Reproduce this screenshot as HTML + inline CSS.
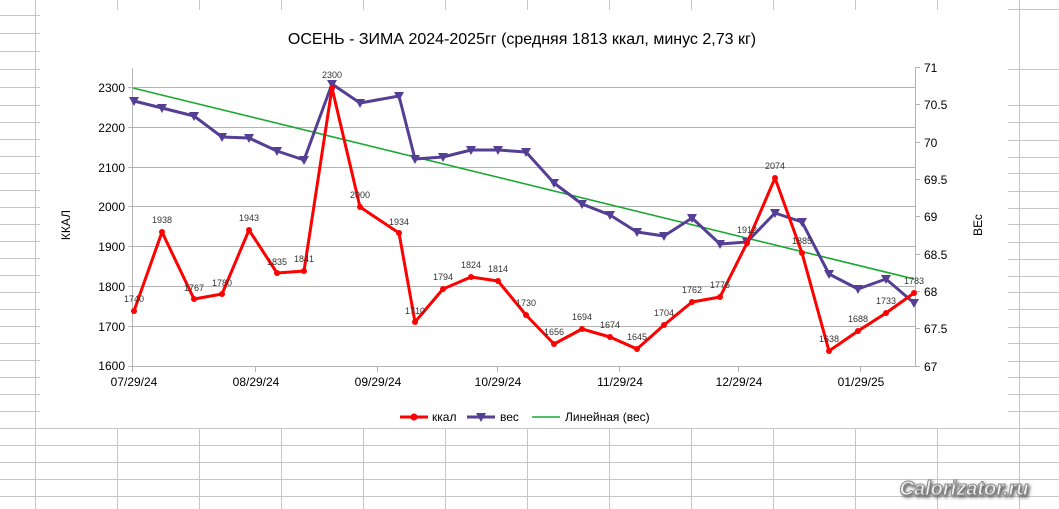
<!DOCTYPE html>
<html><head><meta charset="utf-8"><style>
html,body{margin:0;padding:0;background:#fff;}
svg{display:block;font-family:"Liberation Sans","DejaVu Sans",sans-serif;}
</style></head><body>
<svg width="1059" height="509" viewBox="0 0 1059 509" xmlns="http://www.w3.org/2000/svg">
<defs><filter id="sh" x="-10%" y="-30%" width="120%" height="160%"><feGaussianBlur in="SourceAlpha" stdDeviation="1.5"/><feOffset dx="1.5" dy="2" result="b"/><feFlood flood-color="#555"/><feComposite in2="b" operator="in"/><feMerge><feMergeNode/><feMergeNode in="SourceGraphic"/></feMerge></filter></defs>
<rect width="1059" height="509" fill="#fff"/>
<g stroke="#c6c6c6" stroke-width="1">
<line x1="35.5" y1="0" x2="35.5" y2="509"/>
<line x1="1019.5" y1="0" x2="1019.5" y2="509"/>
<line x1="117.5" y1="0" x2="117.5" y2="10"/><line x1="199.5" y1="0" x2="199.5" y2="10"/><line x1="281.5" y1="0" x2="281.5" y2="10"/><line x1="363.5" y1="0" x2="363.5" y2="10"/><line x1="445.5" y1="0" x2="445.5" y2="10"/><line x1="527.5" y1="0" x2="527.5" y2="10"/><line x1="609.5" y1="0" x2="609.5" y2="10"/><line x1="691.5" y1="0" x2="691.5" y2="10"/><line x1="773.5" y1="0" x2="773.5" y2="10"/><line x1="855.5" y1="0" x2="855.5" y2="10"/><line x1="937.5" y1="0" x2="937.5" y2="10"/>
<line x1="117.5" y1="428" x2="117.5" y2="509"/><line x1="199.5" y1="428" x2="199.5" y2="509"/><line x1="281.5" y1="428" x2="281.5" y2="509"/><line x1="363.5" y1="428" x2="363.5" y2="509"/><line x1="445.5" y1="428" x2="445.5" y2="509"/><line x1="527.5" y1="428" x2="527.5" y2="509"/><line x1="609.5" y1="428" x2="609.5" y2="509"/><line x1="691.5" y1="428" x2="691.5" y2="509"/><line x1="773.5" y1="428" x2="773.5" y2="509"/><line x1="855.5" y1="428" x2="855.5" y2="509"/><line x1="937.5" y1="428" x2="937.5" y2="509"/>
<line x1="0" y1="15.5" x2="40" y2="15.5"/><line x1="0" y1="33.5" x2="40" y2="33.5"/><line x1="0" y1="51.5" x2="40" y2="51.5"/><line x1="0" y1="69.5" x2="40" y2="69.5"/><line x1="0" y1="87.5" x2="40" y2="87.5"/><line x1="0" y1="105.5" x2="40" y2="105.5"/><line x1="0" y1="122.5" x2="40" y2="122.5"/><line x1="0" y1="139.5" x2="40" y2="139.5"/><line x1="0" y1="156.5" x2="40" y2="156.5"/><line x1="0" y1="173.5" x2="40" y2="173.5"/><line x1="0" y1="190.5" x2="40" y2="190.5"/><line x1="0" y1="207.5" x2="40" y2="207.5"/><line x1="0" y1="224.5" x2="40" y2="224.5"/><line x1="0" y1="241.5" x2="40" y2="241.5"/><line x1="0" y1="258.5" x2="40" y2="258.5"/><line x1="0" y1="275.5" x2="40" y2="275.5"/><line x1="0" y1="292.5" x2="40" y2="292.5"/><line x1="0" y1="309.5" x2="40" y2="309.5"/><line x1="0" y1="326.5" x2="40" y2="326.5"/><line x1="0" y1="343.5" x2="40" y2="343.5"/><line x1="0" y1="360.5" x2="40" y2="360.5"/><line x1="0" y1="377.5" x2="40" y2="377.5"/><line x1="0" y1="394.5" x2="40" y2="394.5"/><line x1="0" y1="411.5" x2="40" y2="411.5"/>
<line x1="1008" y1="9.5" x2="1059" y2="9.5"/><line x1="1008" y1="69.5" x2="1059" y2="69.5"/><line x1="1008" y1="105.5" x2="1059" y2="105.5"/><line x1="1008" y1="122.5" x2="1059" y2="122.5"/><line x1="1008" y1="140.5" x2="1059" y2="140.5"/><line x1="1008" y1="157.5" x2="1059" y2="157.5"/><line x1="1008" y1="173.5" x2="1059" y2="173.5"/><line x1="1008" y1="191.5" x2="1059" y2="191.5"/><line x1="1008" y1="208.5" x2="1059" y2="208.5"/><line x1="1008" y1="224.5" x2="1059" y2="224.5"/><line x1="1008" y1="242.5" x2="1059" y2="242.5"/><line x1="1008" y1="259.5" x2="1059" y2="259.5"/><line x1="1008" y1="276.5" x2="1059" y2="276.5"/><line x1="1008" y1="292.5" x2="1059" y2="292.5"/><line x1="1008" y1="309.5" x2="1059" y2="309.5"/><line x1="1008" y1="327.5" x2="1059" y2="327.5"/><line x1="1008" y1="343.5" x2="1059" y2="343.5"/><line x1="1008" y1="361.5" x2="1059" y2="361.5"/><line x1="1008" y1="377.5" x2="1059" y2="377.5"/><line x1="1008" y1="394.5" x2="1059" y2="394.5"/><line x1="1008" y1="411.5" x2="1059" y2="411.5"/>
<line x1="0" y1="428.5" x2="1059" y2="428.5"/><line x1="0" y1="445.5" x2="1059" y2="445.5"/><line x1="0" y1="462.5" x2="1059" y2="462.5"/><line x1="0" y1="479.5" x2="1059" y2="479.5"/><line x1="0" y1="496.5" x2="1059" y2="496.5"/>
</g>
<rect x="40" y="10" width="968" height="418" fill="#fff"/>
<text x="522" y="44" font-size="16" text-anchor="middle" fill="#000">ОСЕНЬ - ЗИМА 2024-2025гг (средняя 1813 ккал, минус 2,73 кг)</text>
<g stroke="#b3b3b3" stroke-width="1">
<line x1="133" y1="87.5" x2="915" y2="87.5"/><line x1="133" y1="127.5" x2="915" y2="127.5"/><line x1="133" y1="167.5" x2="915" y2="167.5"/><line x1="133" y1="206.5" x2="915" y2="206.5"/><line x1="133" y1="246.5" x2="915" y2="246.5"/><line x1="133" y1="286.5" x2="915" y2="286.5"/><line x1="133" y1="326.5" x2="915" y2="326.5"/><line x1="128" y1="366.5" x2="915" y2="366.5"/>
<line x1="128" y1="87.5" x2="133" y2="87.5"/><line x1="128" y1="127.5" x2="133" y2="127.5"/><line x1="128" y1="167.5" x2="133" y2="167.5"/><line x1="128" y1="206.5" x2="133" y2="206.5"/><line x1="128" y1="246.5" x2="133" y2="246.5"/><line x1="128" y1="286.5" x2="133" y2="286.5"/><line x1="128" y1="326.5" x2="133" y2="326.5"/>
<line x1="132.5" y1="68" x2="132.5" y2="372"/>
<line x1="915.5" y1="67" x2="915.5" y2="366"/>
<line x1="915" y1="67.5" x2="920" y2="67.5"/><line x1="915" y1="104.5" x2="920" y2="104.5"/><line x1="915" y1="142.5" x2="920" y2="142.5"/><line x1="915" y1="179.5" x2="920" y2="179.5"/><line x1="915" y1="216.5" x2="920" y2="216.5"/><line x1="915" y1="254.5" x2="920" y2="254.5"/><line x1="915" y1="291.5" x2="920" y2="291.5"/><line x1="915" y1="328.5" x2="920" y2="328.5"/><line x1="915" y1="366.5" x2="920" y2="366.5"/>
<line x1="255.5" y1="366" x2="255.5" y2="372"/><line x1="377.5" y1="366" x2="377.5" y2="372"/><line x1="497.5" y1="366" x2="497.5" y2="372"/><line x1="619.5" y1="366" x2="619.5" y2="372"/><line x1="738.5" y1="366" x2="738.5" y2="372"/><line x1="860.5" y1="366" x2="860.5" y2="372"/>
</g>
<g font-size="12" fill="#000">
<g text-anchor="end">
<text x="125" y="92">2300</text><text x="125" y="132">2200</text><text x="125" y="172">2100</text><text x="125" y="211">2000</text><text x="125" y="251">1900</text><text x="125" y="291">1800</text><text x="125" y="331">1700</text><text x="125" y="370">1600</text>
</g>
<g text-anchor="start">
<text x="924" y="72">71</text><text x="924" y="109">70.5</text><text x="924" y="147">70</text><text x="924" y="184">69.5</text><text x="924" y="221">69</text><text x="924" y="259">68.5</text><text x="924" y="296">68</text><text x="924" y="333">67.5</text><text x="924" y="371">67</text>
</g>
<g text-anchor="middle">
<text x="134" y="386">07/29/24</text><text x="256" y="386">08/29/24</text><text x="378" y="386">09/29/24</text><text x="498" y="386">10/29/24</text><text x="620" y="386">11/29/24</text><text x="739" y="386">12/29/24</text><text x="861" y="386">01/29/25</text>
</g>
<text transform="translate(70,225) rotate(-90)" text-anchor="middle">ККАЛ</text>
<text transform="translate(982,225) rotate(-90)" text-anchor="middle">ВЕс</text>
</g>
<line x1="133" y1="88" x2="914" y2="279" stroke="#1aa832" stroke-width="1.6"/>
<polyline fill="none" stroke="#553f95" stroke-width="3" stroke-linejoin="round" points="134,101 162,108 194,116 222,137 249,138 277,151 304,160 332,84 360,103 399,96 415,159 443,157 471,150 498,150 526,152 554,183 582,204 610,215 637,232 664,236 692,218 720,244 747,242 775,213 802,222 829,274 858,289 886,279 914,303"/>
<g fill="#553f95">
<path d="M129,97h10l-5,9z M157,104h10l-5,9z M189,112h10l-5,9z M217,133h10l-5,9z M244,134h10l-5,9z M272,147h10l-5,9z M299,156h10l-5,9z M327,80h10l-5,9z M355,99h10l-5,9z M394,92h10l-5,9z M410,155h10l-5,9z M438,153h10l-5,9z M466,146h10l-5,9z M493,146h10l-5,9z M521,148h10l-5,9z M549,179h10l-5,9z M577,200h10l-5,9z M605,211h10l-5,9z M632,228h10l-5,9z M659,232h10l-5,9z M687,214h10l-5,9z M715,240h10l-5,9z M742,238h10l-5,9z M770,209h10l-5,9z M797,218h10l-5,9z M824,270h10l-5,9z M853,285h10l-5,9z M881,275h10l-5,9z M909,299h10l-5,9z"/>
</g>
<polyline fill="none" stroke="#ff0000" stroke-width="3" stroke-linejoin="round" points="134,311 162,232 194,299 222,294 249,230 277,273 304,271 332,88 360,207 399,233 415,322 443,289 471,277 498,281 526,315 554,344 582,329 610,337 637,349 664,325 692,302 720,297 747,243 775,178 802,253 829,351 858,331 886,313 914,293"/>
<g fill="#ff0000">
<circle cx="134" cy="311" r="3"/><circle cx="162" cy="232" r="3"/><circle cx="194" cy="299" r="3"/><circle cx="222" cy="294" r="3"/><circle cx="249" cy="230" r="3"/><circle cx="277" cy="273" r="3"/><circle cx="304" cy="271" r="3"/><circle cx="332" cy="88" r="3"/><circle cx="360" cy="207" r="3"/><circle cx="399" cy="233" r="3"/><circle cx="415" cy="322" r="3"/><circle cx="443" cy="289" r="3"/><circle cx="471" cy="277" r="3"/><circle cx="498" cy="281" r="3"/><circle cx="526" cy="315" r="3"/><circle cx="554" cy="344" r="3"/><circle cx="582" cy="329" r="3"/><circle cx="610" cy="337" r="3"/><circle cx="637" cy="349" r="3"/><circle cx="664" cy="325" r="3"/><circle cx="692" cy="302" r="3"/><circle cx="720" cy="297" r="3"/><circle cx="747" cy="243" r="3"/><circle cx="775" cy="178" r="3"/><circle cx="802" cy="253" r="3"/><circle cx="829" cy="351" r="3"/><circle cx="858" cy="331" r="3"/><circle cx="886" cy="313" r="3"/><circle cx="914" cy="293" r="3"/>
</g>
<g font-size="9" fill="#333" text-anchor="middle">
<text x="134" y="302">1740</text><text x="162" y="223">1938</text><text x="194" y="291">1767</text><text x="222" y="286">1780</text><text x="249" y="221">1943</text><text x="277" y="265">1835</text><text x="304" y="262">1841</text><text x="332" y="78">2300</text><text x="360" y="198">2000</text><text x="399" y="225">1934</text><text x="415" y="314">1710</text><text x="443" y="280">1794</text><text x="471" y="268">1824</text><text x="498" y="272">1814</text><text x="526" y="306">1730</text><text x="554" y="335">1656</text><text x="582" y="320">1694</text><text x="610" y="328">1674</text><text x="637" y="340">1645</text><text x="664" y="316">1704</text><text x="692" y="293">1762</text><text x="720" y="288">1776</text><text x="747" y="233">1912</text><text x="775" y="169">2074</text><text x="802" y="244">1885</text><text x="829" y="342">1638</text><text x="858" y="322">1688</text><text x="886" y="304">1733</text><text x="914" y="284">1783</text>
</g>
<g font-size="12" fill="#000">
<line x1="400" y1="417" x2="428" y2="417" stroke="#ff0000" stroke-width="3"/><circle cx="414" cy="417" r="3.5" fill="#ff0000"/>
<text x="432" y="421">ккал</text>
<line x1="467" y1="417" x2="495" y2="417" stroke="#553f95" stroke-width="3"/><path d="M476,413h10l-5,9z" fill="#553f95"/>
<text x="500" y="421">вес</text>
<line x1="532" y1="417" x2="560" y2="417" stroke="#1aa832" stroke-width="1.6"/>
<text x="565" y="421">Линейная (вес)</text>
</g>
<text x="964" y="495" font-size="20" font-weight="bold" font-style="italic" text-anchor="middle" fill="#f4f4f4" stroke="#888" stroke-width="1" filter="url(#sh)">Calorizator.ru</text>
</svg>
</body></html>
